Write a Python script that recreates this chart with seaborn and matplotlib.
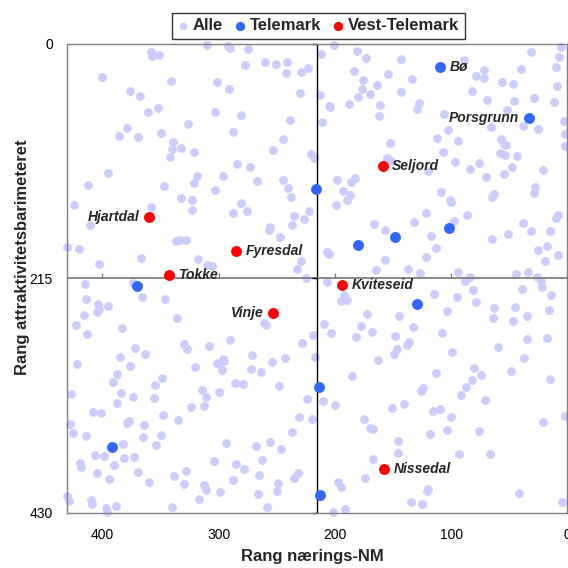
import pandas as pd
import matplotlib.pyplot as plt
import seaborn as sns

# Rang naerings-NM (x) og rang attraktivitetsbarometeret (y), alle kommuner
alle_nm = [
    310, 292, 290, 358, 357, 351, 400, 341, 301, 291, 376, 368, 352, 361, 303, 326, 379, 386, 369, 350,
    288, 339, 340, 332, 321, 342, 395, 412, 347, 319, 321, 296, 303, 332, 323, 284,
    275, 201, 212, 181, 173, 143, 277, 260, 251, 241, 242, 229, 223, 184, 154, 176, 177, 164, 170, 180,
    143, 230, 213, 205, 204, 188, 161, 162, 281, 239, 211, 245, 253, 221, 218, 153, 155, 152, 273, 267,
    245, 240, 238, 198, 193, 186, 183, 187,
    31, 6, 7, 89, 79, 72, 72, 40, 10, 134, 56, 47, 9, 82, 69, 46, 29, 12, 128, 129,
    52, 106, 3, 103, 66, 38, 25, 2, 112, 94, 57, 55, 53, 2, 107, 58, 54, 43, 97, 76,
    84, 48, 55, 21, 70, 28, 29, 109, 63, 65, 101, 120,
    424, 358, 323, 411, 430, 420, 337, 333, 328, 288, 403, 367, 318, 310, 306, 415, 374, 366, 346, 414,
    404, 403, 405, 395, 416, 423, 413, 383, 336, 330, 327, 308, 372, 363, 385, 290, 296,
    281, 276, 222, 235, 227, 256, 257, 237, 247, 229, 233, 225, 207, 205, 199, 190, 166, 157, 157, 165,
    207, 192, 195, 190, 172, 261, 259, 209, 203, 178, 168, 182, 219, 228, 148, 145, 147, 149, 271, 243,
    217, 163,
    100, 122, 132, 86, 98, 117, 113, 122, 137, 127, 94, 88, 84, 81, 79, 115, 95, 104, 65, 51,
    38, 31, 15, 10, 8, 25, 18, 19, 8, 44, 34, 26, 23, 22, 39, 14, 63, 64, 45, 47,
    35, 16, 133, 108, 136, 138, 99, 60, 35, 18, 37,
    422, 376, 387, 391, 349, 355, 384, 374, 387, 356, 427, 320, 301, 295, 297, 286, 314, 311, 300, 324,
    313, 408, 401, 348, 335, 379, 377, 428, 425, 414, 364, 365, 350, 354, 382, 294, 406, 399, 419, 418,
    390, 381, 373, 405, 394, 369, 360, 304, 285, 338, 328, 330, 313, 311, 288, 299, 317, 430, 429, 410,
    409, 397, 396, 388, 340,
    254, 272, 264, 279, 248, 224, 210, 200, 231, 220, 237, 256, 268, 246, 263, 278, 265, 235, 232, 249,
    250, 266, 258, 197, 195, 202, 191, 185, 151, 175, 170, 167, 146, 146, 167, 174,
    113, 80, 74, 82, 87, 92, 49, 15, 126, 124, 141, 71, 116, 110, 100, 21, 2, 104, 76, 118,
    93, 67, 120, 121, 135, 125, 42, 5,
]
alle_attr = [
    1, 2, 4, 7, 11, 10, 30, 34, 35, 41, 43, 48, 59, 62, 62, 73, 77, 84, 85, 82,
    81, 90, 96, 95, 99, 104, 118, 129, 130, 121, 128, 121, 134, 141, 143, 110,
    5, 1, 9, 6, 13, 14, 19, 17, 18, 17, 27, 26, 22, 25, 28, 33, 41, 38, 46, 49,
    44, 45, 47, 57, 58, 55, 56, 66, 65, 70, 72, 87, 97, 101, 105, 91, 105, 107, 113, 126,
    125, 132, 140, 125, 135, 127, 123, 139,
    7, 3, 12, 15, 29, 31, 24, 23, 21, 32, 35, 37, 39, 43, 51, 52, 50, 53, 54, 60,
    61, 64, 71, 79, 76, 75, 78, 83, 86, 89, 87, 92, 93, 94, 99, 100, 102, 103, 108, 109,
    115, 113, 119, 116, 122, 131, 137, 136, 138, 140, 143, 117,
    148, 150, 152, 166, 186, 188, 181, 180, 180, 155, 202, 196, 197, 203, 204, 220, 219, 232, 234, 234,
    239, 243, 246, 240, 249, 258, 266, 261, 251, 275, 280, 277, 279, 284, 287, 272, 289,
    146, 153, 153, 158, 161, 168, 171, 166, 177, 199, 206, 215, 191, 193, 148, 143, 165, 171, 198, 207,
    218, 230, 236, 235, 248, 256, 258, 257, 265, 259, 264, 269, 267, 274, 268, 250, 280, 284, 285, 288,
    287, 290,
    145, 155, 163, 157, 162, 176, 187, 195, 206, 210, 209, 217, 214, 226, 237, 229, 232, 245, 179, 174,
    164, 172, 172, 160, 157, 189, 185, 199, 194, 211, 209, 214, 217, 223, 225, 230, 242, 251, 241, 254,
    250, 244, 260, 265, 273, 276, 283, 278, 271, 270, 288,
    294, 295, 303, 310, 306, 313, 320, 324, 329, 325, 321, 296, 293, 291, 299, 311, 317, 324, 319, 333,
    332, 338, 339, 340, 345, 348, 346, 349, 357, 360, 350, 361, 359, 368, 367, 366, 377, 378, 384, 388,
    386, 380, 379, 394, 399, 393, 402, 383, 385, 396, 392, 404, 405, 409, 400, 411, 417, 415, 419, 418,
    422, 426, 429, 424, 425,
    292, 298, 301, 312, 314, 326, 328, 331, 342, 344, 356, 365, 369, 372, 382, 390, 395, 398, 394, 403,
    410, 413, 425, 402, 406, 429, 427, 305, 334, 344, 352, 353, 364, 375, 381, 398,
    302, 297, 304, 308, 315, 322, 300, 307, 318, 316, 330, 327, 337, 335, 342, 347, 341, 354, 355, 358,
    376, 376, 408, 410, 420, 422, 412, 420,
]

# Telemark
telemark_names = ['Bø', 'Porsgrunn', '', '', '', '', '', '', '', '', '']
telemark_nm = [110, 33, 216, 180, 148, 102, 129, 370, 214, 213, 392]
telemark_attr = [21, 68, 133, 184, 177, 169, 239, 222, 315, 414, 370]

# Vest-Telemark
vest_names = ['Seljord', 'Hjartdal', 'Fyresdal', 'Tokke', 'Kviteseid', 'Vinje', 'Nissedal']
vest_nm = [159, 360, 285, 343, 194, 253, 158]
vest_attr = [112, 159, 190, 212, 221, 247, 390]

x_ticks = [400, 300, 200, 100, 0]
y_ticks = [0, 215, 430]

alle = pd.DataFrame({'nm': alle_nm, 'attr': alle_attr})
tel = pd.DataFrame({'nm': telemark_nm, 'attr': telemark_attr, 'navn': telemark_names})
vest = pd.DataFrame({'nm': vest_nm, 'attr': vest_attr, 'navn': vest_names})

sns.set_style('white')
plt.rcParams['font.family'] = ['Liberation Sans', 'DejaVu Sans']

fig = plt.figure(figsize=(5.68, 5.68), dpi=100)
ax = fig.add_axes([0.1188, 0.0974, 0.8803, 0.8252])

sns.scatterplot(data=alle, x='nm', y='attr', color='#CCCCFF', s=40, linewidth=0,
                label='Alle', ax=ax, zorder=2, clip_on=False)
ax.axvline(215, color='black', lw=1, zorder=2.5)
ax.axhline(215, color='#808080', lw=1.3, zorder=2.5)
# små tick-merker på kryssaksene
ax.plot(x_ticks[:-1], [215] * 4, ls='none', marker=2, ms=3.5, mew=1, color='#808080', zorder=2.5)
ax.plot([215] * 3, y_ticks, ls='none', marker=0, ms=3.5, mew=1, color='black', zorder=2.5, clip_on=False)
sns.scatterplot(data=tel, x='nm', y='attr', color='#3068FF', s=62, linewidth=0,
                label='Telemark', ax=ax, zorder=3, clip_on=False)
sns.scatterplot(data=vest, x='nm', y='attr', color='#FF0000', s=62, linewidth=0,
                label='Vest-Telemark', ax=ax, zorder=3, clip_on=False)

left_side = {'Porsgrunn', 'Hjartdal', 'Vinje'}
for df in (tel, vest):
    for _, r in df.iterrows():
        if not r['navn']:
            continue
        if r['navn'] in left_side:
            off, ha = (-7, 0), 'right'
        else:
            off, ha = (7, 0), 'left'
        ax.annotate(r['navn'], (r['nm'], r['attr']), xytext=off, textcoords='offset points',
                    ha=ha, va='center', fontsize=10, fontweight='bold', fontstyle='italic', zorder=4)

ax.set_xlim(430, 0)
ax.set_ylim(430, 0)
ax.set_xticks(x_ticks)
ax.set_yticks(y_ticks)
ax.tick_params(axis='x', length=0, pad=11, labelsize=10, labelcolor='black')
ax.tick_params(axis='y', length=5, width=1, direction='inout', color='#808080', pad=8,
               labelsize=10, labelcolor='black')
for sp in ax.spines.values():
    sp.set_color('#808080')
    sp.set_linewidth(1)

ax.set_xlabel('Rang nærings-NM', fontsize=12, fontweight='bold')
ax.set_ylabel('Rang attraktivitetsbarimeteret', fontsize=12, fontweight='bold')
ax.xaxis.set_label_coords(0.49, -0.078)
ax.yaxis.set_label_coords(-0.075, 0.545)

leg = ax.legend(loc='lower center', bbox_to_anchor=(0.502, 1.01), ncol=3, frameon=True,
                fancybox=False, edgecolor='black', borderaxespad=0, borderpad=0.35,
                handlelength=0.6, handletextpad=0.3, columnspacing=0.7, markerscale=0.85,
                prop={'weight': 'bold', 'size': 12})
leg.get_frame().set_linewidth(1)

plt.savefig('out.png', dpi=100)
plt.close()
